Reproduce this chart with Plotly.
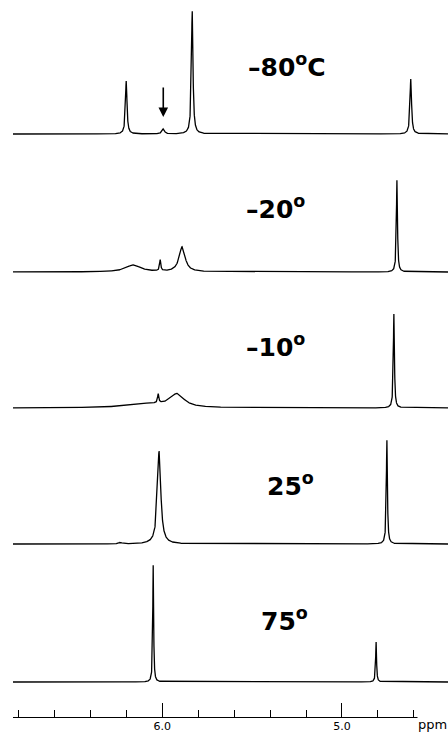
import numpy as np
import plotly.graph_objects as go

# ---- data (ppm, intensity above baseline, half-width in ppm) ----
labels = ["–80<sup>o</sup>C", "–20<sup>o</sup>", "–10<sup>o</sup>", "25<sup>o</sup>", "75<sup>o</sup>"]

pos_m80 = [6.20, 5.994, 5.833, 4.617]
hgt_m80 = [53, 5, 123, 55]
wid_m80 = [0.005, 0.008, 0.005, 0.005]

pos_m20 = [6.161, 6.011, 5.889, 4.694]
hgt_m20 = [7, 11, 25, 92]
wid_m20 = [0.05, 0.004, 0.02, 0.0035]

pos_m10 = [6.08, 6.022, 5.917, 4.711]
hgt_m10 = [4, 9, 13, 94]
wid_m10 = [0.14, 0.004, 0.045, 0.0035]

pos_p25 = [6.233, 6.017, 4.750]
hgt_p25 = [1.5, 93, 104]
wid_p25 = [0.01, 0.011, 0.0035]

pos_p75 = [6.05, 4.81]
hgt_p75 = [117, 40]
wid_p75 = [0.0028, 0.003]

arrow_ppm = 5.994
tick_vals = [6.0, 5.0]
tick_text = ["6.0", "5.0"]
unit_label = "ppm"

# ---- layout constants ----
W, H = 448, 732
plot_h = 717
offsets = [583, 445, 309, 173, 35]
label_xy = [(5.306, 652), (5.367, 510), (5.367, 372), (5.289, 233), (5.322, 98)]

spectra = [
    (pos_m80, hgt_m80, wid_m80),
    (pos_m20, hgt_m20, wid_m20),
    (pos_m10, hgt_m10, wid_m10),
    (pos_p25, hgt_p25, wid_p25),
    (pos_p75, hgt_p75, wid_p75),
]

ppm = np.linspace(4.41, 6.83, 5000)

fig = go.Figure()
for (p, h, w), off in zip(spectra, offsets):
    y = np.zeros_like(ppm)
    for c, a, g in zip(p, h, w):
        y += a / (1 + ((ppm - c) / g) ** 2)
    fig.add_trace(go.Scatter(x=ppm, y=y + off, mode="lines",
                             line=dict(color="black", width=1.3),
                             hoverinfo="skip", showlegend=False))

font_lbl = dict(family="DejaVu Sans", size=25, color="black", weight="bold")
for txt, (lx, ly) in zip(labels, label_xy):
    fig.add_annotation(x=lx, y=ly, text=txt, showarrow=False, font=font_lbl,
                       xanchor="center", yanchor="middle")

# arrow marking the small peak
fig.add_annotation(x=arrow_ppm, y=offsets[0] + 17, ax=arrow_ppm, ay=offsets[0] + 48,
                   xref="x", yref="y", axref="x", ayref="y", text="",
                   showarrow=True, arrowhead=2, arrowsize=1.2, arrowwidth=1.6,
                   arrowcolor="black")

# "ppm" unit label at the end of the axis (white box hides the line's tail)
fig.add_annotation(x=4.58, y=0, xref="x", yref="y", text=unit_label,
                   showarrow=False, xanchor="left", yanchor="top", yshift=3,
                   width=32, height=17, align="left", valign="bottom",
                   font=dict(family="DejaVu Sans", size=13, color="black"),
                   bgcolor="white", borderpad=0)

fig.update_layout(
    width=W, height=H,
    margin=dict(l=13, r=0, t=0, b=H - plot_h, pad=0, autoexpand=False),
    plot_bgcolor="white", paper_bgcolor="white",
    xaxis=dict(range=[6.83, 4.41], showgrid=False, zeroline=False, automargin=False,
               showline=True, linecolor="black", linewidth=1.3,
               tickvals=tick_vals, ticktext=tick_text,
               ticks="inside", ticklen=14, tickwidth=1.3, tickcolor="black",
               ticklabelstandoff=-1,
               tickfont=dict(family="DejaVu Sans", size=11, color="black"),
               minor=dict(dtick=0.2, tick0=5.0, ticks="inside", ticklen=7,
                          tickwidth=1.1, tickcolor="black", showgrid=False)),
    yaxis=dict(range=[0, plot_h], visible=False, fixedrange=True, automargin=False),
)

fig.write_html("out.html", config={"displayModeBar": False},
               post_script="document.body.style.margin='0';"
                           "document.body.style.overflow='hidden';")
